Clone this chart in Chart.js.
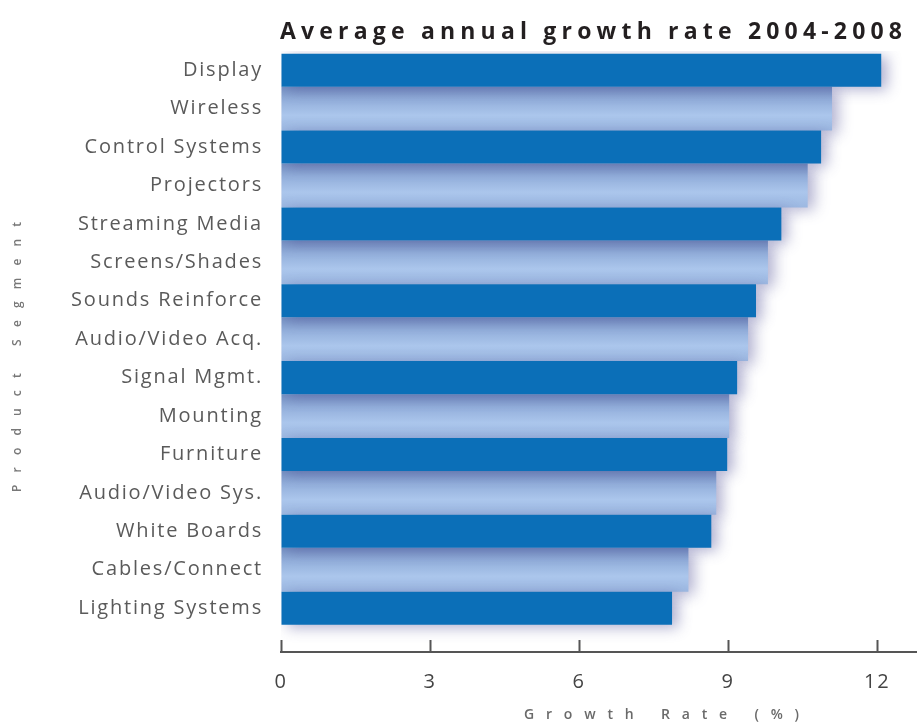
<!DOCTYPE html>
<html>
<head>
<meta charset="utf-8">
<script src="https://cdn.jsdelivr.net/npm/chart.js@4/dist/chart.umd.min.js"></script>
<style>
html,body{margin:0;padding:0;background:#fff;}
canvas{display:block;}
</style>
</head>
<body>
<canvas id="c" width="917" height="726"></canvas>
<script>
const categories = ["Display","Wireless","Control Systems","Projectors","Streaming Media","Screens/Shades","Sounds Reinforce","Audio/Video Acq.","Signal Mgmt.","Mounting","Furniture","Audio/Video Sys.","White Boards","Cables/Connect","Lighting Systems"];
const growthValues = [12.08, 11.09, 10.87, 10.6, 10.07, 9.8, 9.56, 9.4, 9.18, 9.02, 8.98, 8.76, 8.66, 8.2, 7.87];
const xTickValues = [0, 3, 6, 9, 12];
const titleText = "Average annual growth rate 2004-2008";
const xTitleText = "Growth Rate (%)";
const yTitleText = "Product Segment";

const darkData = [];
const lightData = [];
growthValues.forEach((v, i) => {
  (i % 2 === 0 ? darkData : lightData).push({x: v, y: i});
});

const LIGHT_PCT = 1.14;
const DARK_PCT = 0.86;

function lightGradient(c) {
  const ch = c.chart;
  const ys = ch.scales && ch.scales.y;
  if (!c.raw || !ys || !ch.chartArea) return '#a0bce4';
  const y = ys.getPixelForValue(c.raw.y);
  const step = Math.abs(ys.getPixelForValue(1) - ys.getPixelForValue(0));
  const half = step * LIGHT_PCT / 2;
  const g = ch.ctx.createLinearGradient(0, y - half, 0, y + half);
  g.addColorStop(0, '#7591c2');
  g.addColorStop(0.3, '#93afdb');
  g.addColorStop(0.65, '#abc6ec');
  g.addColorStop(1, '#9cb8e1');
  return g;
}

function spacedText(ctx, text, font, color, x0, x1, y) {
  ctx.font = font;
  ctx.letterSpacing = '0px';
  const w = ctx.measureText(text).width;
  const ls = (x1 - x0 - w) / (text.length - 1);
  ctx.letterSpacing = ls + 'px';
  ctx.fillStyle = color;
  ctx.textAlign = 'left';
  ctx.textBaseline = 'middle';
  ctx.fillText(text, x0, y);
  ctx.letterSpacing = '0px';
}

const spacingPlugin = {
  id: 'labelSpacing',
  beforeDraw(chart) { chart.ctx.letterSpacing = '1.8px'; },
  afterDraw(chart) { chart.ctx.letterSpacing = '0px'; }
};

const shadowPlugin = {
  id: 'shadow',
  beforeDatasetsDraw(chart) {
    const ctx = chart.ctx;
    ctx.save();
    ctx.shadowColor = 'rgba(80,80,150,0.45)';
    ctx.shadowBlur = 14;
    ctx.shadowOffsetX = 6;
    ctx.shadowOffsetY = 3;
  },
  afterDatasetsDraw(chart) {
    chart.ctx.restore();
  }
};

const textPlugin = {
  id: 'texts',
  afterDraw(chart) {
    const ctx = chart.ctx;
    ctx.save();
    spacedText(ctx, titleText, 'bold 23px "Open Sans"', '#231f20', 280, 902, 32);
    spacedText(ctx, xTitleText, '600 14px "Open Sans"', '#6a6a6a', 524, 799, 715);
    ctx.translate(18, 492);
    ctx.rotate(-Math.PI / 2);
    spacedText(ctx, yTitleText, '600 12px "Open Sans"', '#777777', 0, 270, 0);
    ctx.restore();
  }
};

new Chart(document.getElementById('c'), {
  type: 'bar',
  data: {
    datasets: [
      {
        label: 'dark',
        data: darkData,
        backgroundColor: '#0b6fb8',
        borderWidth: 0,
        barPercentage: DARK_PCT,
        categoryPercentage: 1,
        grouped: false,
        order: 0
      },
      {
        label: 'light',
        data: lightData,
        backgroundColor: lightGradient,
        borderWidth: 0,
        barPercentage: LIGHT_PCT,
        categoryPercentage: 1,
        grouped: false,
        order: 1
      }
    ]
  },
  options: {
    indexAxis: 'y',
    responsive: false,
    animation: false,
    devicePixelRatio: 1,
    layout: { padding: { top: 51, left: 0, right: 0, bottom: 0 } },
    plugins: { legend: { display: false }, tooltip: { enabled: false }, title: { display: false } },
    scales: {
      y: {
        type: 'linear',
        reverse: true,
        offset: false,
        min: -0.5,
        max: 15.14,
        afterFit(s) { s.width = 281; s.paddingTop = 0; s.paddingBottom = 0; },
        afterBuildTicks(s) { s.ticks = categories.map((_, i) => ({ value: i })); },
        grid: { display: false, drawTicks: false, offset: false },
        border: { display: false },
        ticks: {
          padding: 18,
          color: '#5a5a5a',
          font: { family: 'Open Sans', size: 20 },
          callback: (v) => categories[v] !== undefined ? categories[v] : ''
        }
      },
      x: {
        type: 'linear',
        min: 0,
        max: 12.8,
        afterFit(s) { s.height = 74; s.paddingLeft = 0; s.paddingRight = 0; },
        afterBuildTicks(s) { s.ticks = xTickValues.map(v => ({ value: v })); },
        grid: { display: true, drawOnChartArea: false, drawTicks: true, tickLength: -12, tickWidth: 2, color: '#555' },
        border: { display: true, color: '#555', width: 2 },
        ticks: {
          padding: 30,
          color: '#444',
          font: { family: 'Open Sans', size: 20 }
        }
      }
    }
  },
  plugins: [spacingPlugin, shadowPlugin, textPlugin]
});
</script>
</body>
</html>
